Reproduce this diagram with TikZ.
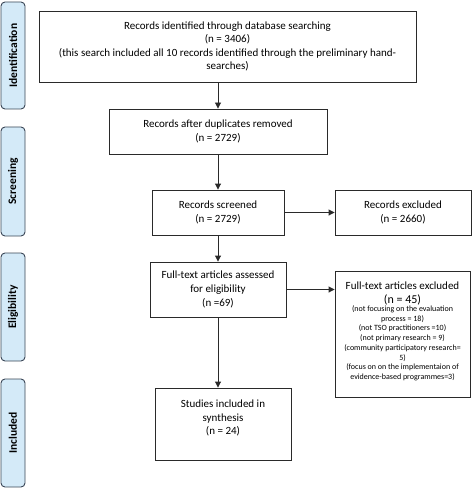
\documentclass[tikz,border=0pt]{standalone}
\usepackage{fontspec}
\setmainfont{Carlito}
\usetikzlibrary{arrows.meta}
\definecolor{sidefill}{HTML}{D4EAF8}
\definecolor{sidedraw}{HTML}{3A4656}
\definecolor{linecol}{HTML}{2A2A2A}
\tikzset{
  flowbox/.style={draw=linecol, line width=0.9pt, align=center, inner sep=2pt,
    font=\fontsize{11}{13.6}\selectfont},
  plaintext/.style={align=center, inner sep=0pt},
  sidebox/.style={draw=sidedraw, fill=sidefill, line width=0.9pt, rounded corners=4pt,
    minimum width=24pt},
  sidelabel/.style={rotate=90, font=\bfseries\fontsize{11.5}{13}\selectfont},
  flowarrow/.style={draw=linecol, line width=0.9pt, -{Triangle[length=6pt,width=6pt]}}
}
\begin{document}
\begin{tikzpicture}[x=1pt,y=-1pt]
\useasboundingbox (0,0) rectangle (472,489);
% side phase labels
\node[sidebox, minimum height=107pt] (sid) at (13,55.5) {};
\node[sidelabel] (sidt) at (sid.center) {Identification};
\node[sidebox, minimum height=109pt] (sscr) at (13,181.5) {};
\node[sidelabel] (sscrt) at (sscr.center) {Screening};
\node[sidebox, minimum height=108pt] (seli) at (13,307) {};
\node[sidelabel] (selit) at (seli.center) {Eligibility};
\node[sidebox, minimum height=108pt] (sinc) at (13,433) {};
\node[sidelabel] (sinct) at (sinc.center) {Included};
% flow boxes
\node[flowbox, minimum width=377pt, minimum height=71pt] (b1) at (227.5,46.5)
  {Records identified through database searching\\(n = 3406)\\(this search included all 10 records identified through the preliminary hand-\\searches)};
\node[flowbox, minimum width=218pt, minimum height=45pt] (b2) at (218,131.5)
  {Records after duplicates removed\\(n = 2729)};
\node[flowbox, minimum width=132pt, minimum height=45pt] (b3) at (218,212.5)
  {Records screened\\(n = 2729)};
\node[flowbox, minimum width=136pt, minimum height=45pt] (b4) at (403,212.5)
  {Records excluded\\(n = 2660)};
\node[flowbox, minimum width=136pt, minimum height=55pt] (b5) at (218,289.5)
  {Full-text articles assessed\\for eligibility\\(n =69)};
\node[flowbox, minimum width=135pt, minimum height=126pt] (b6) at (402.5,334) {};
\node[plaintext, font=\fontsize{11}{14}\selectfont] (b6head) at (402.5,286) {Full-text articles excluded};
\node[plaintext, font=\fontsize{12}{14}\selectfont] (b6n) at (402.5,300) {(n = 45)};
\node[plaintext, font=\fontsize{8}{9.7}\selectfont, anchor=north] (b6list) at (402.5,305.5)
  {(not focusing on the evaluation\\process = 18)\\(not TSO practitioners =10)\\(not primary research = 9)\\(community participatory research=\\5)\\(focus on on the implementaion of\\evidence-based programmes=3)};
\node[flowbox, minimum width=136pt, minimum height=72pt] (b7) at (223,424)
  {Studies included in\\synthesis\\(n = 24)\\\mbox{}};
% connectors
\draw[flowarrow] (b2.north |- b1.south) -- (b2.north);
\draw[flowarrow] (b2.south) -- (b3.north);
\draw[flowarrow] (b3.east) -- (b4.west);
\draw[flowarrow] (b3.south) -- (b5.north);
\draw[flowarrow] (b5.east) -- (b5.east -| b6.west);
\draw[flowarrow] (b5.south) -- (b5.south |- b7.north);
\end{tikzpicture}
\end{document}
